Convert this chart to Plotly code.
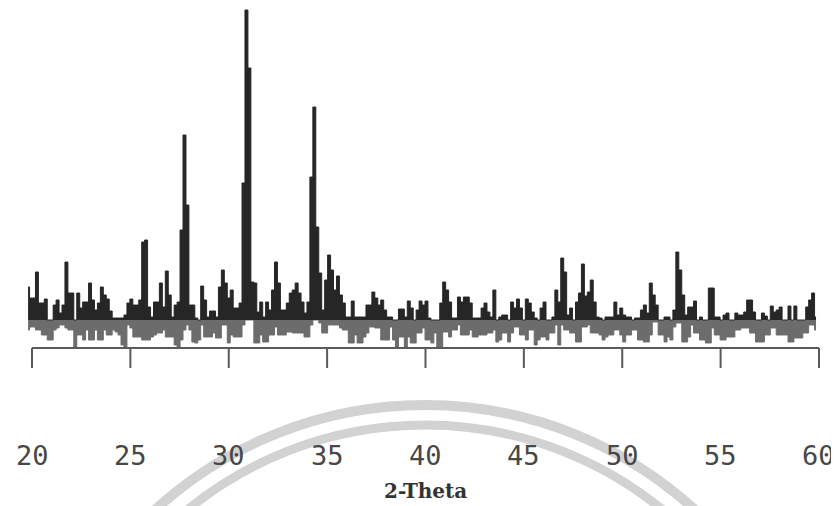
import numpy as np
import plotly.graph_objects as go

# 2-theta grid of the scan
two_theta_start = 19.8
two_theta_step = 0.15

# intensity above the baseline (dark trace), arbitrary units
upper = [
    33, 22, 22, 48, 17, 17, 21, 0, 0, 15,
    20, 7, 15, 58, 27, 27, 0, 27, 12, 18,
    18, 37, 20, 10, 17, 33, 25, 21, 9, 2,
    2, 2, 2, 5, 17, 21, 15, 15, 20, 78,
    80, 13, 3, 18, 18, 37, 13, 49, 25, 3,
    15, 18, 90, 185, 115, 15, 15, 2, 0, 34,
    20, 3, 9, 9, 3, 33, 50, 37, 22, 30,
    12, 12, 17, 137, 310, 252, 38, 37, 8, 18,
    3, 18, 10, 30, 58, 37, 10, 10, 17, 27,
    30, 37, 27, 18, 7, 18, 143, 213, 93, 47,
    10, 40, 65, 50, 30, 44, 25, 17, 3, 3,
    19, 3, 3, 3, 3, 15, 15, 28, 22, 15,
    20, 10, 3, 3, 0, 0, 11, 11, 3, 19,
    12, 0, 10, 19, 15, 19, 2, 0, 0, 0,
    17, 38, 30, 18, 2, 2, 23, 18, 23, 23,
    17, 2, 2, 2, 12, 17, 8, 3, 30, 0,
    3, 5, 5, 0, 18, 12, 21, 12, 0, 21,
    17, 8, 2, 0, 12, 18, 0, 0, 3, 30,
    18, 62, 48, 5, 12, 0, 18, 27, 56, 24,
    28, 40, 18, 3, 2, 0, 3, 3, 3, 18,
    5, 12, 5, 3, 3, 0, 2, 2, 10, 15,
    7, 37, 25, 15, 0, 0, 3, 3, 0, 10,
    68, 50, 25, 5, 13, 13, 19, 0, 3, 0,
    0, 32, 32, 3, 3, 0, 5, 7, 0, 0,
    7, 5, 5, 8, 20, 20, 8, 0, 0, 7,
    4, 0, 14, 8, 10, 13, 0, 0, 14, 0,
    14, 0, 0, 0, 13, 20, 27, 3,
]

# intensity below the baseline (grey trace), arbitrary units
lower = [
    -10, -7, -7, -10, -10, -15, -15, -20, -20, -10,
    -8, -5, -5, -8, -10, -10, -27, -15, -15, -20,
    -10, -20, -20, -10, -20, -20, -10, -15, -15, -10,
    -12, -15, -25, -28, -5, -8, -17, -17, -17, -20,
    -20, -20, -17, -15, -13, -13, -10, -17, -17, -17,
    -25, -27, -20, -10, -5, -10, -22, -23, -20, -5,
    -17, -17, -17, -13, -18, -18, -5, -5, -23, -15,
    -17, -17, -17, -5, 0, 0, 0, -23, -23, -15,
    -22, -22, -15, -15, -7, -15, -15, -15, -12, -12,
    -13, -13, -13, -13, -17, -17, -5, 0, 0, -3,
    -13, -13, -5, -5, -5, -5, -8, -10, -10, -23,
    -23, -15, -23, -23, -17, -13, -7, -7, -8, -8,
    -20, -20, -20, -7, -20, -27, -17, -17, -27, -17,
    -23, -23, -13, -13, -8, -20, -20, -23, -13, -27,
    -27, -12, -12, -17, -10, -10, -5, -15, -15, -15,
    -10, -17, -17, -15, -15, -15, -13, -13, -10, -22,
    -20, -13, -13, -22, -13, -7, -7, -15, -15, -20,
    -10, -10, -25, -20, -17, -17, -20, -13, -13, -5,
    -25, -5, -10, -10, -13, -13, -22, -22, -7, -7,
    -5, -13, -13, -13, -15, -20, -17, -15, -15, -10,
    -10, -15, -22, -15, -15, -10, -10, -20, -20, -22,
    -22, -15, -2, -2, -15, -15, -22, -17, -20, -7,
    -3, -3, -22, -22, -17, -5, -13, -13, -20, -20,
    -23, -23, -8, -15, -15, -20, -20, -17, -17, -17,
    -10, -10, -8, -8, -8, -13, -13, -22, -22, -22,
    -15, -15, -8, -8, -15, -15, -15, -15, -22, -22,
    -18, -18, -18, -13, -13, -5, -5, -10,
]

tick_vals = [20, 25, 30, 35, 40, 45, 50, 55, 60]
tick_labels = ["20", "25", "30", "35", "40", "45", "50", "55", "60"]
x_title = "2-Theta"

x = two_theta_start + two_theta_step * np.arange(len(upper))

# the page body has an 8 px margin, so the figure is drawn 8 px smaller
OFF = 8
W, H = 839 - OFF, 506 - OFF
PLOT_LEFT, PLOT_RIGHT = 20, 830      # page pixels
PLOT_TOP, PLOT_BOTTOM = 8, 370       # page pixels
L = PLOT_LEFT - OFF
R = W - (PLOT_RIGHT - OFF)
T = PLOT_TOP - OFF
B = H - (PLOT_BOTTOM - OFF)
plot_w = PLOT_RIGHT - PLOT_LEFT
plot_h = PLOT_BOTTOM - PLOT_TOP
Y_MIN = -50
Y_MAX = Y_MIN + plot_h               # 1 unit per pixel
AXIS_Y = -28
TICK_END = -48


def py_to_paper(py):
    return (PLOT_BOTTOM - py) / plot_h


def px_to_paper(px):
    return (px - PLOT_LEFT) / plot_w


fig = go.Figure()
fig.add_trace(go.Scatter(
    x=x, y=lower, mode="lines",
    line=dict(shape="hvh", color="#6c6c6c", width=1),
    fill="tozeroy", fillcolor="#6c6c6c",
    hoverinfo="skip", showlegend=False,
))
fig.add_trace(go.Scatter(
    x=x, y=upper, mode="lines",
    line=dict(shape="hvh", color="#262626", width=1),
    fill="tozeroy", fillcolor="#262626",
    hoverinfo="skip", showlegend=False,
))

shapes = []
# faint watermark arcs below the axis
for cx, cy, r, w in [(425, 805, 400, 10), (425, 800, 375, 9)]:
    shapes.append(dict(
        type="circle", xref="paper", yref="paper",
        x0=px_to_paper(cx - r), x1=px_to_paper(cx + r),
        y0=py_to_paper(cy + r), y1=py_to_paper(cy - r),
        line=dict(color="#d2d2d2", width=w), layer="below",
    ))
# axis line and ticks
shapes.append(dict(type="line", xref="x", yref="y",
                   x0=tick_vals[0], x1=tick_vals[-1], y0=AXIS_Y, y1=AXIS_Y,
                   line=dict(color="#5a5a5a", width=2)))
for v in tick_vals:
    shapes.append(dict(type="line", xref="x", yref="y",
                       x0=v, x1=v, y0=AXIS_Y, y1=TICK_END,
                       line=dict(color="#5a5a5a", width=2)))

annotations = []
for v, t in zip(tick_vals, tick_labels):
    annotations.append(dict(
        x=v, xref="x", y=py_to_paper(455), yref="paper",
        text=t, showarrow=False, xanchor="center", yanchor="middle",
        font=dict(family="DejaVu Sans Mono", size=27, color="#474747"),
    ))
annotations.append(dict(
    x=40, xref="x", y=py_to_paper(491), yref="paper",
    text="<b>" + x_title + "</b>", showarrow=False,
    xanchor="center", yanchor="middle",
    font=dict(family="DejaVu Serif", size=20, color="#333333"),
))

fig.update_layout(
    width=W, height=H,
    margin=dict(l=L, r=R, t=T, b=B, pad=0),
    paper_bgcolor="white", plot_bgcolor="white",
    xaxis=dict(range=[19.39, 60.56], visible=False, fixedrange=True),
    yaxis=dict(range=[Y_MIN, Y_MAX], visible=False, fixedrange=True),
    shapes=shapes, annotations=annotations,
    showlegend=False,
)

fig.write_html("out.html")
